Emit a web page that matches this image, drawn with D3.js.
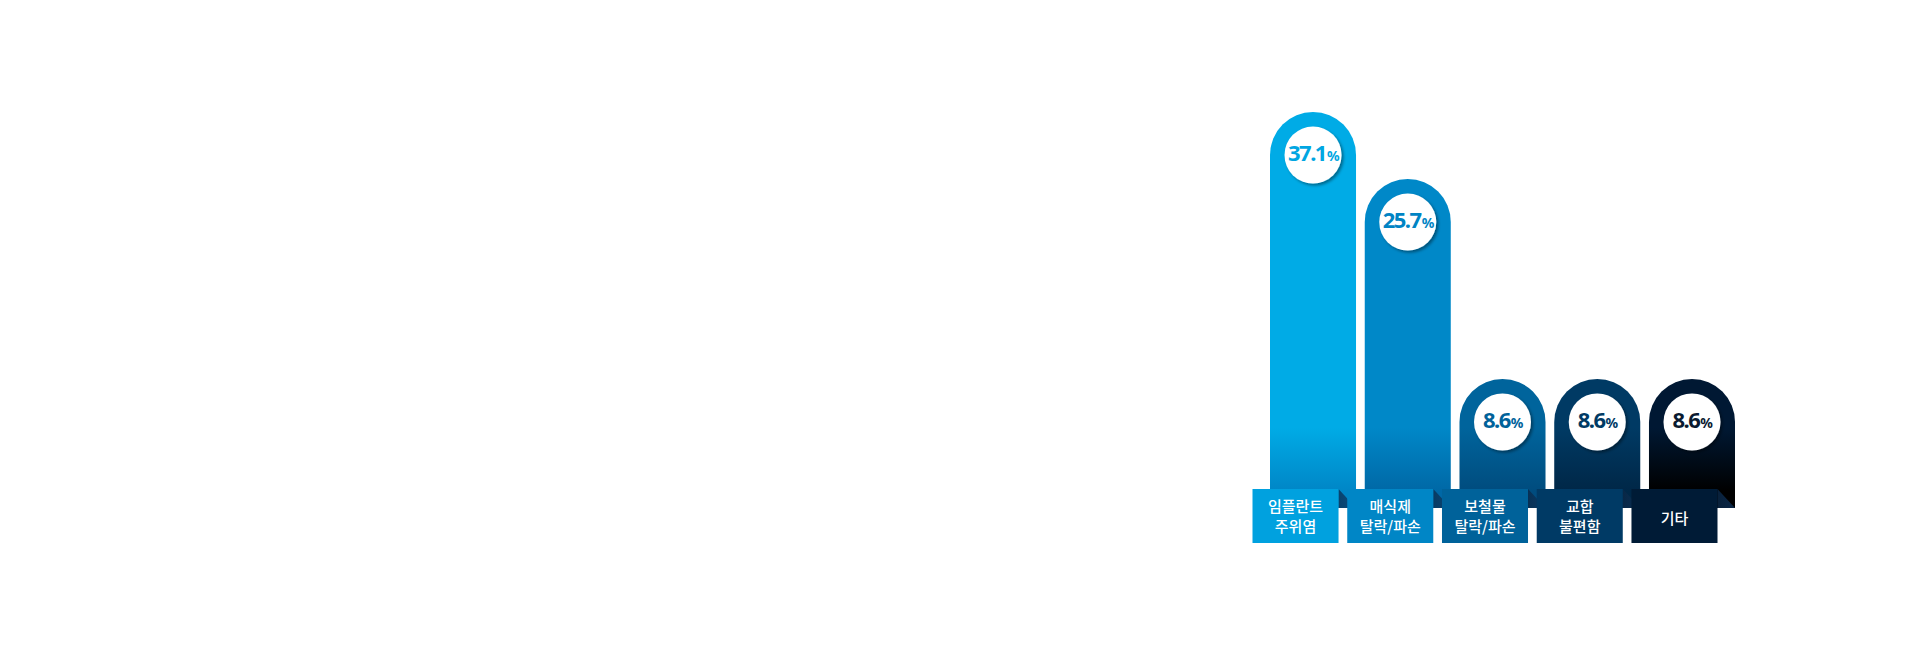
<!DOCTYPE html>
<html>
<head>
<meta charset="utf-8">
<script src="https://cdn.jsdelivr.net/npm/d3@7"></script>
<style>
  body { margin: 0; background: #fff; }
  .lbl { font-family: "Noto Sans CJK KR", "Noto Sans", sans-serif; font-weight: 500; font-size: 15px; fill: #fff; }
  .pct { font-family: "Noto Sans", "Open Sans", sans-serif; font-weight: 700; letter-spacing: -1.5px; }
</style>
</head>
<body>
<svg id="chart"></svg>
<script>
// data
const categories = ["임플란트 주위염", "매식제 탈락/파손", "보철물 탈락/파손", "교합 불편함", "기타"];
const labelLines = [["임플란트", "주위염"], ["매식제", "탈락/파손"], ["보철물", "탈락/파손"], ["교합", "불편함"], ["기타"]];
const values = [37.1, 25.7, 8.6, 8.6, 8.6];

// styles
const topColors = ["#00abe6", "#0088c8", "#00649c", "#003a64", "#001833"];
const bottomColors = ["#0086c6", "#0068a6", "#004c7e", "#002747", "#000000"];
const labelColors = ["#00a1df", "#0086c6", "#00629a", "#003a65", "#001b36"];
const foldColors = ["#0b4f82", "#0a4676", "#0a3b66", "#0a2f54", "#0b2747"];
const textColors = ["#00a6e2", "#0084c4", "#00629a", "#003a64", "#0a1a30"];

const W = 1905, H = 655;
const barBottom = 508;
const labelTop = 489, labelH = 54, labelShift = 17.5;

const svg = d3.select("#chart").attr("width", W).attr("height", H);
const defs = svg.append("defs");

const shadow = defs.append("filter").attr("id", "shadow")
  .attr("x", "-30%").attr("y", "-30%").attr("width", "160%").attr("height", "160%");
shadow.append("feDropShadow")
  .attr("dx", 2).attr("dy", 2).attr("stdDeviation", 1.6)
  .attr("flood-color", "#000").attr("flood-opacity", 0.4);

const x = d3.scaleBand()
  .domain(categories)
  .range([1270, 1735])
  .paddingInner(0.092)
  .paddingOuter(0);

// bar heights in the picture follow a log-like progression
const y = d3.scaleLog()
  .domain([4.24, 37.1])
  .range([barBottom, 112]);

categories.forEach((c, i) => {
  const g = defs.append("linearGradient").attr("id", "grad" + i)
    .attr("gradientUnits", "userSpaceOnUse")
    .attr("x1", 0).attr("x2", 0).attr("y1", 428).attr("y2", labelTop + 2);
  g.append("stop").attr("offset", 0).attr("stop-color", topColors[i]);
  g.append("stop").attr("offset", 1).attr("stop-color", bottomColors[i]);

  const fg = defs.append("linearGradient").attr("id", "fold" + i)
    .attr("x1", 0).attr("x2", 1).attr("y1", 0).attr("y2", 0);
  fg.append("stop").attr("offset", 0).attr("stop-color", d3.color(foldColors[i]).darker(0.5));
  fg.append("stop").attr("offset", 1).attr("stop-color", foldColors[i]);
});

function barPath(x0, w, top, bottom) {
  const r = w / 2;
  return `M${x0},${bottom}L${x0},${top + r}A${r},${r} 0 0 1 ${x0 + w},${top + r}L${x0 + w},${bottom}Z`;
}

const cols = svg.selectAll("g.col")
  .data(categories)
  .join("g")
  .attr("class", "col");

cols.each(function (c, i) {
  const g = d3.select(this);
  const bx = x(c), bw = x.bandwidth();
  const top = y(values[i]);
  const cx = bx + bw / 2, cy = top + bw / 2;
  const lx = bx - labelShift;

  g.append("path")
    .attr("d", barPath(bx, bw, top, barBottom))
    .attr("fill", `url(#grad${i})`);

  // folded ribbon corner
  g.append("path")
    .attr("d", `M${lx + bw},${labelTop}L${bx + bw},${barBottom}L${lx + bw},${barBottom}Z`)
    .attr("fill", `url(#fold${i})`);

  g.append("rect")
    .attr("x", lx).attr("y", labelTop)
    .attr("width", bw).attr("height", labelH)
    .attr("fill", labelColors[i]);

  const lines = labelLines[i];
  lines.forEach((s, k) => {
    const ly = lines.length === 1 ? 519 : 507 + k * 20;
    g.append("text").attr("class", "lbl").attr("text-anchor", "middle")
      .attr("x", lx + bw / 2).attr("y", ly).attr("dy", "0.35em").text(s);
  });

  g.append("circle")
    .attr("cx", cx).attr("cy", cy).attr("r", 28.5)
    .attr("fill", "#fff")
    .attr("filter", "url(#shadow)");

  const pt = g.append("text").attr("class", "pct")
    .attr("x", cx).attr("y", cy).attr("dy", "0.36em")
    .attr("text-anchor", "middle")
    .attr("fill", textColors[i]);
  pt.append("tspan").attr("font-size", 22).text(values[i].toFixed(1));
  pt.append("tspan").attr("font-size", 14).attr("dx", 1).text("%");
});
</script>
</body>
</html>
